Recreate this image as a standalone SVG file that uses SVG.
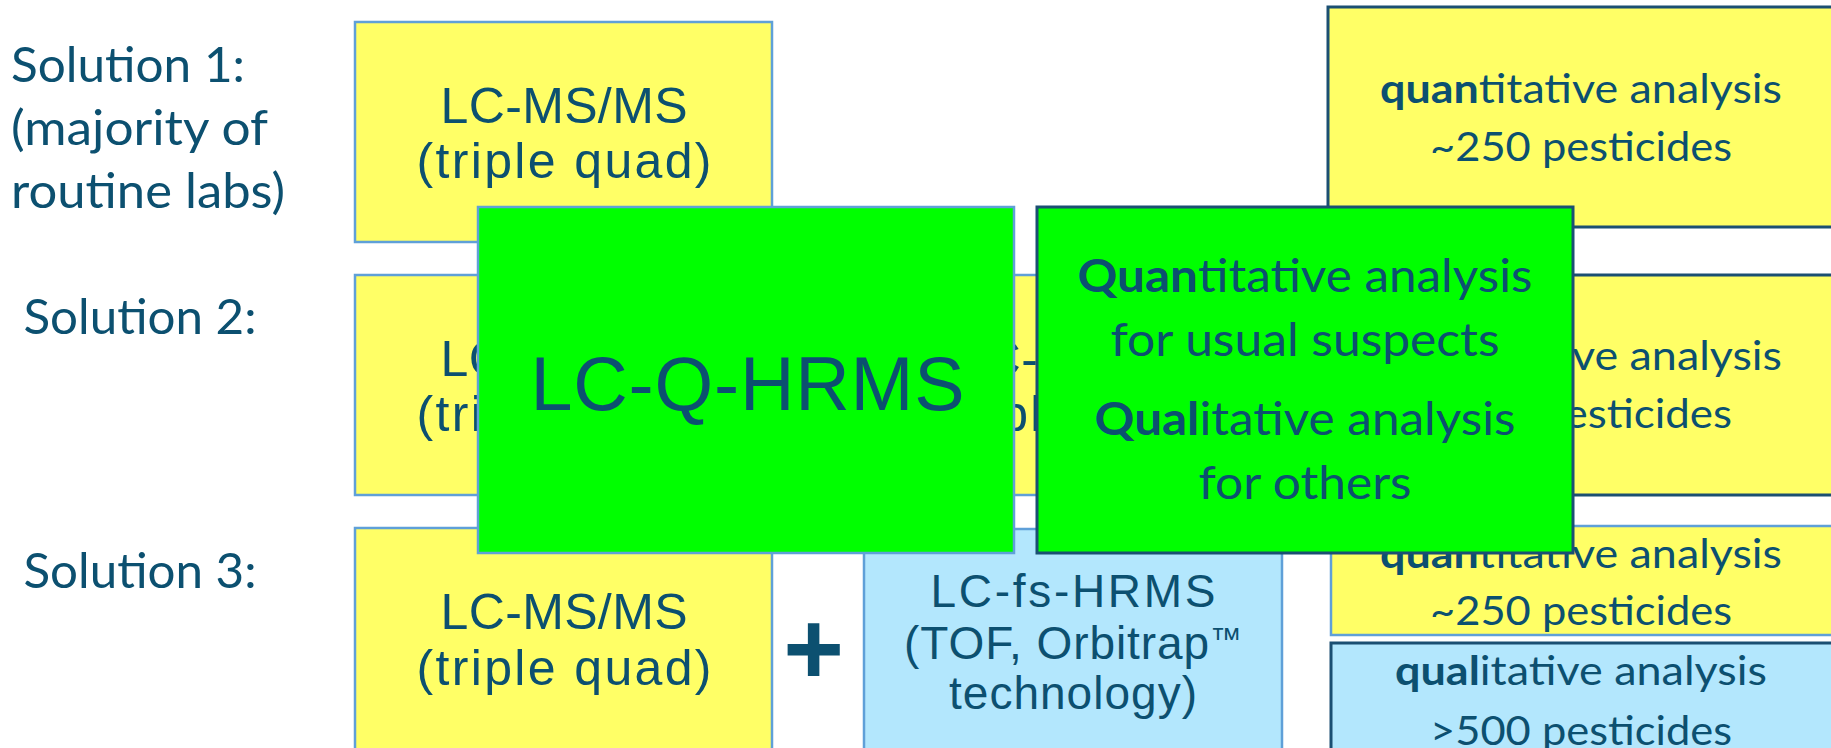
<svg xmlns="http://www.w3.org/2000/svg" width="1831" height="748" viewBox="0 0 1831 748">
<style>
.yel{fill:#FFFF66}
.blu{fill:#B3E7FD}
.grn{fill:#00FF00}
.sl{stroke:#5FA0D8;stroke-width:2.5}
.sd{stroke:#1B4F72;stroke-width:3}
text{fill:#0C5070}
.lbl{font-family:Lato,"Open Sans","Liberation Sans",sans-serif;font-size:47.5px}
.ar{font-family:"Liberation Sans",Arial,sans-serif;font-size:50px;text-anchor:middle}
.ar2{font-family:"Liberation Sans",Arial,sans-serif;font-size:46px;text-anchor:middle}
.big{font-family:"Liberation Sans",Arial,sans-serif;font-size:75.5px;text-anchor:middle}
.rt{font-family:Lato,"Open Sans","Liberation Sans",sans-serif;font-size:40px;text-anchor:middle}
.gt{font-family:Lato,"Open Sans","Liberation Sans",sans-serif;font-size:46px;text-anchor:middle}
.b{font-weight:bold}
</style>

<g id="labels">
<text class="lbl" x="11" y="82" textLength="234" lengthAdjust="spacingAndGlyphs">Solution 1:</text>
<text class="lbl" x="11" y="145" textLength="257" lengthAdjust="spacingAndGlyphs">(majority of</text>
<text class="lbl" x="11" y="208" textLength="274" lengthAdjust="spacingAndGlyphs">routine labs)</text>
<text class="lbl" x="23.5" y="334" textLength="233" lengthAdjust="spacingAndGlyphs">Solution 2:</text>
<text class="lbl" x="23.5" y="588" textLength="233" lengthAdjust="spacingAndGlyphs">Solution 3:</text>
</g>

<g id="s1-lcmsms">
<rect class="yel sl" x="355" y="22" width="417" height="220"/>
<text class="ar" x="564" y="123.3" textLength="247" lengthAdjust="spacing">LC-MS/MS</text>
<text class="ar" x="564" y="178.3" textLength="295" lengthAdjust="spacing">(triple quad)</text>
</g>

<g id="s2-lcmsms-a">
<rect class="yel sl" x="355" y="275" width="417" height="220"/>
<text class="ar" x="564" y="376.3" textLength="247" lengthAdjust="spacing">LC-MS/MS</text>
<text class="ar" x="564" y="431.3" textLength="295" lengthAdjust="spacing">(triple quad)</text>
</g>

<g id="s2-lcmsms-b">
<rect class="yel sl" x="868" y="275" width="424" height="220"/>
<text class="ar" x="1080" y="376.3" textLength="247" lengthAdjust="spacing">LC-MS/MS</text>
<text class="ar" x="1080" y="431.3" textLength="295" lengthAdjust="spacing">(triple quad)</text>
</g>

<g id="s3-lcmsms">
<rect class="yel sl" x="355" y="528" width="417" height="240"/>
<text class="ar" x="564" y="629" textLength="247" lengthAdjust="spacing">LC-MS/MS</text>
<text class="ar" x="564" y="684.5" textLength="295" lengthAdjust="spacing">(triple quad)</text>
</g>

<g id="s3-plus">
<text x="813.5" y="684" style="font-family:'Liberation Sans',Arial,sans-serif;font-weight:bold;font-size:104px;text-anchor:middle">+</text>
</g>

<g id="s3-lcfshrms">
<rect class="blu sl" x="864" y="529" width="418" height="240"/>
<text class="ar2" x="1073" y="607" textLength="285" lengthAdjust="spacing">LC-fs-HRMS</text>
<text class="ar2" x="1073" y="659" textLength="338" lengthAdjust="spacing">(TOF, Orbitrap<tspan style="font-size:32px" dy="-9">™</tspan></text>
<text class="ar2" x="1073" y="709" textLength="248" lengthAdjust="spacing">technology)</text>
</g>

<g id="s1-result">
<rect class="yel sd" x="1328" y="7" width="510" height="220"/>
<text class="rt" x="1581" y="103" textLength="402" lengthAdjust="spacingAndGlyphs"><tspan class="b">quan</tspan>titative analysis</text>
<text class="rt" x="1581" y="161" textLength="302" lengthAdjust="spacingAndGlyphs">~250 pesticides</text>
</g>

<g id="s2-result">
<rect class="yel sd" x="1328" y="275" width="510" height="220"/>
<text class="rt" x="1581" y="370" textLength="402" lengthAdjust="spacingAndGlyphs"><tspan class="b">quan</tspan>titative analysis</text>
<text class="rt" x="1540" y="428" style="text-anchor:start" textLength="192" lengthAdjust="spacingAndGlyphs">pesticides</text>
</g>

<g id="s3-result-quan">
<rect class="yel sl" x="1331" y="526" width="510" height="109"/>
<text class="rt" x="1581" y="568" textLength="402" lengthAdjust="spacingAndGlyphs"><tspan class="b">quan</tspan>titative analysis</text>
<text class="rt" x="1581" y="625" textLength="302" lengthAdjust="spacingAndGlyphs">~250 pesticides</text>
</g>

<g id="s3-result-qual">
<rect class="blu sd" x="1331" y="643" width="510" height="120"/>
<text class="rt" x="1581" y="685" textLength="372" lengthAdjust="spacingAndGlyphs"><tspan class="b">qual</tspan>itative analysis</text>
<text class="rt" x="1581" y="745" textLength="302" lengthAdjust="spacingAndGlyphs">&gt;500 pesticides</text>
</g>

<g id="lc-q-hrms">
<rect class="grn sl" x="478" y="207" width="536" height="346"/>
<text class="big" x="747.5" y="410" textLength="434" lengthAdjust="spacing">LC-Q-HRMS</text>
</g>

<g id="q-hrms-result">
<rect class="grn sd" x="1037" y="207" width="536" height="346"/>
<text class="gt" x="1305" y="292" textLength="455" lengthAdjust="spacingAndGlyphs"><tspan class="b">Quan</tspan>titative analysis</text>
<text class="gt" x="1305" y="356" textLength="389" lengthAdjust="spacingAndGlyphs">for usual suspects</text>
<text class="gt" x="1305" y="435" textLength="421" lengthAdjust="spacingAndGlyphs"><tspan class="b">Qual</tspan>itative analysis</text>
<text class="gt" x="1305" y="499" textLength="213" lengthAdjust="spacingAndGlyphs">for others</text>
</g>

<g id="connectors"></g>
</svg>
